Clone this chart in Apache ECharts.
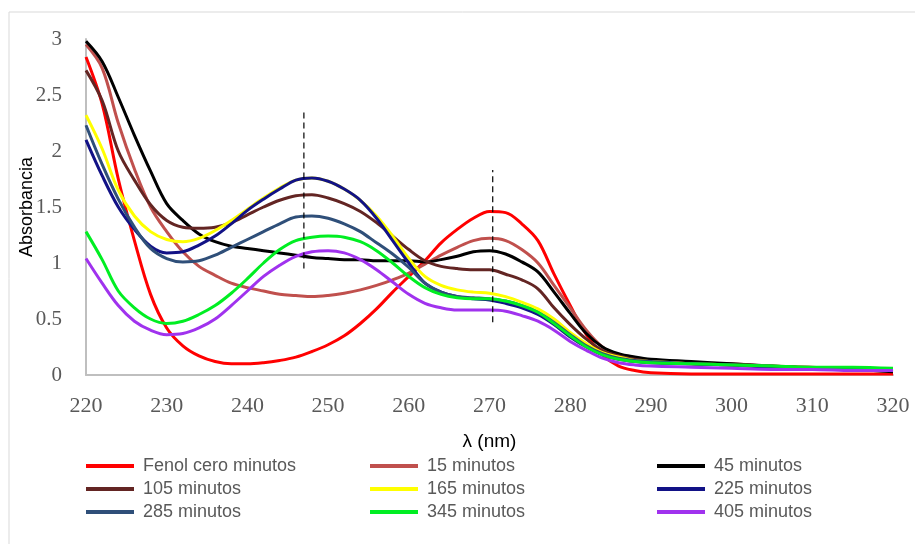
<!DOCTYPE html>
<html>
<head>
<meta charset="UTF-8">
<title>Absorbancia</title>
<script src="https://cdn.jsdelivr.net/npm/echarts@6/dist/echarts.min.js"></script>
<style>
	html, body{
		margin:0px;
		padding:0px;
		background:#ffffff;
	}
	#chart{
		width:915px;
		height:544px;
	}
</style>
</head>
<body>
<div id="chart"></div>
<script>
// longitudes de onda (nm)
var lambda = [220,222,224,226,228,230,232,234,236,238,240,242,244,246,248,250,252,254,256,258,
	260,262,264,266,268,270,272,274,276,278,280,282,284,286,288,290,295,300,305,310,315,320];

var fenol0 = [2.84,2.42,1.75,1.20,0.72,0.42,0.26,0.17,0.12,0.10,0.10,0.11,0.13,0.16,0.21,0.27,0.35,0.46,0.59,0.74,
	0.88,1.02,1.18,1.30,1.40,1.46,1.45,1.35,1.20,0.90,0.62,0.36,0.18,0.08,0.04,0.02,0.01,0.01,0.01,0.01,0.01,0.01];
var min15 = [2.95,2.74,2.25,1.84,1.50,1.28,1.10,0.97,0.89,0.82,0.78,0.75,0.72,0.71,0.70,0.71,0.73,0.76,0.80,0.85,
	0.91,0.99,1.07,1.14,1.20,1.22,1.20,1.12,1.00,0.80,0.60,0.40,0.25,0.18,0.15,0.13,0.11,0.10,0.08,0.07,0.05,0.04];
var min45 = [2.98,2.80,2.48,2.14,1.82,1.53,1.38,1.26,1.19,1.15,1.13,1.11,1.09,1.07,1.05,1.04,1.03,1.03,1.02,1.02,
	1.02,1.01,1.03,1.06,1.10,1.11,1.08,1.01,0.92,0.74,0.55,0.37,0.25,0.19,0.16,0.14,0.12,0.10,0.08,0.06,0.05,0.03];
var min105 = [2.72,2.45,2.00,1.74,1.52,1.38,1.32,1.31,1.32,1.36,1.43,1.50,1.56,1.60,1.61,1.58,1.53,1.46,1.36,1.24,
	1.12,1.02,0.97,0.95,0.94,0.94,0.90,0.85,0.77,0.60,0.45,0.32,0.22,0.17,0.14,0.12,0.10,0.09,0.07,0.06,0.05,0.04];
var min165 = [2.32,2.02,1.65,1.42,1.28,1.21,1.19,1.22,1.29,1.38,1.48,1.58,1.67,1.74,1.76,1.73,1.66,1.56,1.42,1.24,
	1.04,0.88,0.80,0.76,0.74,0.73,0.70,0.65,0.59,0.50,0.38,0.28,0.20,0.16,0.13,0.12,0.10,0.09,0.08,0.06,0.05,0.04];
var min225 = [2.10,1.78,1.50,1.30,1.15,1.09,1.10,1.16,1.24,1.35,1.47,1.57,1.66,1.74,1.76,1.73,1.66,1.56,1.40,1.20,
	1.00,0.82,0.74,0.70,0.68,0.67,0.64,0.60,0.54,0.45,0.34,0.25,0.18,0.14,0.12,0.11,0.10,0.09,0.07,0.06,0.05,0.04];
var min285 = [2.23,1.88,1.57,1.32,1.13,1.04,1.01,1.02,1.07,1.14,1.21,1.28,1.35,1.41,1.42,1.40,1.35,1.28,1.18,1.08,
	0.96,0.82,0.74,0.70,0.69,0.68,0.66,0.62,0.56,0.47,0.36,0.26,0.19,0.15,0.13,0.12,0.10,0.09,0.08,0.06,0.05,0.04];
var min345 = [1.28,1.03,0.75,0.60,0.50,0.46,0.48,0.54,0.62,0.73,0.86,1.00,1.12,1.20,1.23,1.24,1.23,1.19,1.11,1.00,
	0.88,0.78,0.72,0.69,0.68,0.68,0.66,0.62,0.56,0.46,0.35,0.25,0.18,0.14,0.12,0.11,0.10,0.09,0.08,0.07,0.07,0.06];
var min405 = [1.04,0.82,0.62,0.48,0.40,0.36,0.37,0.42,0.50,0.62,0.75,0.88,0.98,1.06,1.10,1.11,1.09,1.03,0.94,0.83,
	0.72,0.64,0.60,0.58,0.58,0.58,0.57,0.53,0.48,0.40,0.30,0.22,0.15,0.11,0.09,0.08,0.07,0.06,0.05,0.05,0.04,0.04];

var names = ['Fenol cero minutos','15 minutos','45 minutos','105 minutos','165 minutos',
	'225 minutos','285 minutos','345 minutos','405 minutos'];
var colors = ['#ff0000','#c0504d','#000000','#632523','#ffff00','#121286','#2f4f79','#00ee22','#a032ee'];
var values = [fenol0,min15,min45,min105,min165,min225,min285,min345,min405];

// líneas de referencia punteadas
var marca1 = [[247,0.95],[247,2.38]];
var marca2 = [[270.4,0.47],[270.4,1.83]];

var xTicks = [220,230,240,250,260,270,280,290,300,310,320];

function pares(v){
	var d = [];
	for(var i=0;i<lambda.length;i++){
		d.push([lambda[i], v[i]]);
	}
	return d;
}

var series = [];
for(var i=0;i<names.length;i++){
	series.push({
		name:names[i],
		type:'line',
		data:pares(values[i]),
		smooth:0.35,
		symbol:'none',
		color:colors[i],
		lineStyle:{width:3, color:colors[i]}
	});
}
series.push({
	name:'m1', type:'line', data:marca1, symbol:'none', silent:true, z:5,
	lineStyle:{width:1.2, color:'#000000', type:[6,4]}
});
series.push({
	name:'m2', type:'line', data:marca2, symbol:'none', silent:true, z:5,
	lineStyle:{width:1.2, color:'#000000', type:[6,4]}
});

function legendCol(left, items){
	return {
		orient:'vertical',
		left:left,
		top:457,
		padding:0,
		icon:'rect',
		itemWidth:48,
		itemHeight:4,
		itemGap:5,
		data:items,
		selectedMode:false,
		textStyle:{
			fontFamily:'Liberation Sans',
			fontSize:18,
			lineHeight:18,
			color:'#595959',
			padding:[0,0,0,4]
		}
	};
}

var chart = echarts.init(document.getElementById('chart'));
var option = {
	animation:false,
	backgroundColor:'#ffffff',
	graphic:[{
		type:'rect',
		shape:{x:9, y:12, width:930, height:560},
		style:{fill:'none', stroke:'#d9d9d9', lineWidth:1},
		silent:true
	}],
	grid:{
		left:86,
		right:22,
		top:39,
		bottom:169
	},
	legend:[
		legendCol(86, [names[0],names[3],names[6]]),
		legendCol(370, [names[1],names[4],names[7]]),
		legendCol(657, [names[2],names[5],names[8]])
	],
	xAxis:{
		type:'value',
		min:220,
		max:320,
		interval:10,
		name:'λ (nm)',
		nameLocation:'middle',
		nameGap:57,
		nameMoveOverlap:false,
		nameTextStyle:{fontFamily:'Liberation Sans', fontSize:19, color:'#000000'},
		axisLine:{lineStyle:{color:'#bfbfbf', width:2}},
		axisTick:{show:false},
		splitLine:{show:false},
		axisLabel:{
			margin:20,
			fontFamily:'Liberation Serif',
			fontSize:22,
			color:'#595959',
			customValues:xTicks
		}
	},
	yAxis:{
		type:'value',
		min:0,
		max:3,
		interval:0.5,
		name:'Absorbancia',
		nameLocation:'middle',
		nameGap:50,
		nameMoveOverlap:false,
		nameTextStyle:{fontFamily:'Liberation Sans', fontSize:18, color:'#000000'},
		axisLine:{show:true, lineStyle:{color:'#bfbfbf', width:2}},
		axisTick:{show:false},
		splitLine:{show:false},
		axisLabel:{
			margin:24,
			fontFamily:'Liberation Serif',
			fontSize:21,
			color:'#595959'
		}
	},
	series:series
};
chart.setOption(option);
</script>
</body>
</html>
